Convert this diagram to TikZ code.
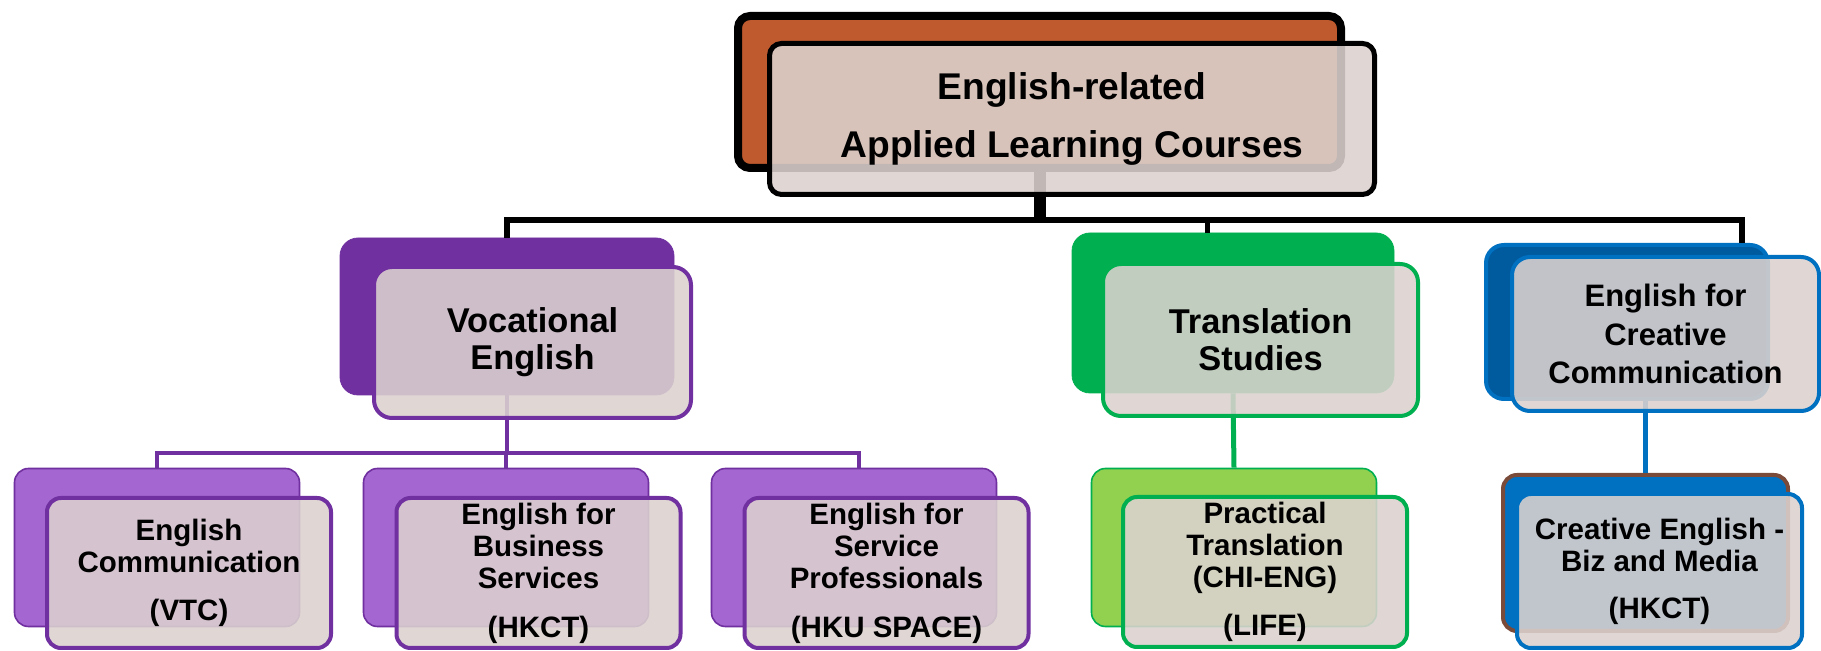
\documentclass[tikz,border=0pt]{standalone}
\usepackage{fontspec}
\setmainfont{Liberation Sans}
\usepackage{tikz}
\usetikzlibrary{positioning}
\usepackage{xcolor}
\definecolor{rust}{HTML}{BE5A2E}
\definecolor{paper}{RGB}{220,210,207}
\definecolor{plum}{HTML}{7030A0}
\definecolor{lilac}{HTML}{A466D0}
\definecolor{leaf}{HTML}{00B050}
\definecolor{lime}{HTML}{92D050}
\definecolor{navy}{HTML}{005A9E}
\definecolor{azure}{HTML}{0070C0}
\definecolor{bark}{HTML}{7B4B3A}
\tikzstyle{back} = [rectangle, draw, rounded corners=9pt, inner sep=0pt, minimum height=79pt]
\tikzstyle{front} = [rectangle, draw, fill=paper, fill opacity=0.88, text opacity=1, rounded corners=9pt, inner sep=0pt, align=center, line width=2pt]
\tikzstyle{leafback} = [back, rounded corners=7pt, minimum width=142.5pt, line width=0.8pt]
\tikzstyle{leaffront} = [front, rounded corners=7pt, minimum width=142pt, minimum height=75pt, font=\bfseries\fontsize{14.75pt}{16pt}\selectfont, execute at begin node={\rule{0pt}{15.5pt}}]
\tikzstyle{midfront} = [front, font=\bfseries\fontsize{17.2pt}{18.5pt}\selectfont]
\tikzstyle{link} = [draw, line width=2pt]

\begin{document}
\begin{tikzpicture}[x=0.5pt, y=-0.5pt]
  \fill[white] (0,0) rectangle (1821,651);
  \useasboundingbox (0,0) rectangle (1821,651);
  %% back boxes
  \node[back, fill=rust, line width=4pt, rounded corners=6pt, minimum width=301.5pt, minimum height=76pt] (topb) at (1039.5,92) {};
  \node[back, fill=plum, draw=plum, minimum width=167pt, minimum height=78.5pt] (vocb) at (507,316.5) {};
  \node[back, fill=leaf, draw=leaf, minimum width=161pt, minimum height=80pt] (transb) at (1233,313) {};
  \node[back, fill=navy, draw=azure, line width=2pt, minimum width=141pt, minimum height=77pt] (ccb) at (1627,322) {};
  \node[leafback, fill=lilac, draw=plum] (c1b) at (157,547.5) {};
  \node[leafback, fill=lilac, draw=plum, right of=c1b, node distance=174.5pt] (c2b) {};
  \node[leafback, fill=lilac, draw=plum, right of=c2b, node distance=174pt] (c3b) {};
  \node[leafback, fill=lime, draw=leaf] (pracb) at (1234,547.5) {};
  \node[leafback, fill=azure, draw=bark, line width=2pt, minimum width=142.5pt, minimum height=78pt] (crb) at (1645.5,553) {};
  %% edges
  \coordinate (bus) at (1044,220);
  \coordinate (pbus) at (507,453);
  \path[link, line width=6pt](topb.south) -- (topb.south |- bus);
  \path[link, line width=3pt](vocb.north) |- (bus) -| ([xshift=57.5pt]ccb.north);
  \path[link, line width=2.5pt]([xshift=-13pt]transb.north) -- ([xshift=-13pt]transb.north |- bus);
  \path[link, draw=plum](vocb.south) -- (pbus);
  \path[link, draw=plum](c1b.north) |- (pbus) -| ([xshift=2.5pt]c3b.north);
  \path[link, draw=plum](c2b.north) -- (c2b.north |- pbus);
  \path[link, draw=leaf, line width=2.5pt](transb.south) -- (pracb.north);
  \path[link, draw=azure, line width=2.5pt](crb.north) -- (crb.north |- ccb.south);
  %% front boxes
  \node[front, line width=2.5pt, rounded corners=6pt, minimum width=302.5pt, minimum height=75.5pt, font=\bfseries\fontsize{18.6pt}{29pt}\selectfont] (top) at ([shift={(32.5,27)}]topb.center) {English-related\\Applied Learning Courses};
  \node[midfront, draw=plum, minimum width=158.5pt, minimum height=75.5pt] (voc) at ([shift={(25.5,26)}]vocb.center) {Vocational\\English};
  \node[midfront, draw=leaf, minimum width=157.5pt, minimum height=76pt] (trans) at ([shift={(27.5,27)}]transb.center) {Translation\\Studies};
  \node[front, draw=azure, minimum width=153.5pt, minimum height=77pt, font=\bfseries\fontsize{15.5pt}{19.25pt}\selectfont] (cc) at ([shift={(38.5,12)}]ccb.center) {English for\\Creative\\Communication};
  \node[leaffront, draw=plum] (c1) at ([shift={(32,25.5)}]c1b.center) {English\\Communication\\[8pt](VTC)};
  \node[leaffront, draw=plum] (c2) at ([shift={(32.5,25.5)}]c2b.center) {English for\\Business\\Services\\[8.5pt](HKCT)};
  \node[leaffront, draw=plum] (c3) at ([shift={(32.5,25.5)}]c3b.center) {English for\\Service\\Professionals\\[8.5pt](HKU SPACE)};
  \node[leaffront, draw=leaf] (prac) at ([shift={(31,24.5)}]pracb.center) {Practical\\Translation\\(CHI-ENG)\\[8pt](LIFE)};
  \node[leaffront, draw=azure, minimum width=142.5pt, minimum height=77pt] (cr) at ([shift={(14,18)}]crb.center) {Creative English -\\Biz and Media\\[7.5pt](HKCT)};
\end{tikzpicture}
\end{document}
